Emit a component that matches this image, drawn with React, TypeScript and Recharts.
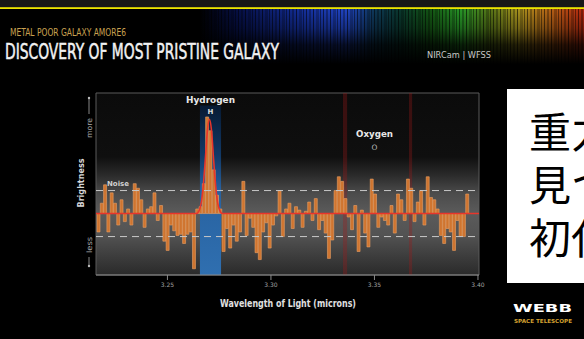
import React from 'react';
import { ComposedChart, Bar, Line, XAxis, YAxis, ReferenceArea, ReferenceLine } from 'recharts';

// Spectrum bins: wavelength (microns) and relative brightness
const wavelengths = [
  3.2168, 3.2184, 3.2200, 3.2216, 3.2232, 3.2248, 3.2264, 3.2280, 3.2296, 3.2312,
  3.2328, 3.2344, 3.2360, 3.2376, 3.2392, 3.2408, 3.2424, 3.2440, 3.2456, 3.2472,
  3.2488, 3.2504, 3.2520, 3.2536, 3.2552, 3.2568, 3.2584, 3.2600, 3.2616, 3.2632,
  3.2648, 3.2664, 3.2680, 3.2696, 3.2712, 3.2728, 3.2744, 3.2760, 3.2776, 3.2792,
  3.2808, 3.2824, 3.2840, 3.2856, 3.2872, 3.2888, 3.2904, 3.2920, 3.2936, 3.2952,
  3.2968, 3.2984, 3.3000, 3.3016, 3.3032, 3.3048, 3.3064, 3.3080, 3.3096, 3.3112,
  3.3128, 3.3144, 3.3160, 3.3176, 3.3192, 3.3208, 3.3224, 3.3240, 3.3256, 3.3272,
  3.3288, 3.3304, 3.3320, 3.3336, 3.3352, 3.3368, 3.3384, 3.3400, 3.3416, 3.3432,
  3.3448, 3.3464, 3.3480, 3.3496, 3.3512, 3.3528, 3.3544, 3.3560, 3.3576, 3.3592,
  3.3608, 3.3624, 3.3640, 3.3656, 3.3672, 3.3688, 3.3704, 3.3720, 3.3736, 3.3752,
  3.3768, 3.3784, 3.3800, 3.3816, 3.3832, 3.3848, 3.3864, 3.3880, 3.3896, 3.3912,
  3.3928, 3.3944, 3.3960,
];

const brightness = [
  -0.8, 0.45, 1.25, -0.8, 0.9, 0.45, -0.5, 0.6, -0.35, 0.2,
  -0.5, 1.3, 1.1, 0.6, -0.6, 0.2, 0.3, 0.9, -0.3, 0.35,
  -1.2, -1.6, -0.5, -0.75, -0.95, -0.9, -1.3, -0.9, -0.8, -2.4,
  0.2, 0.3, 1.3, 4.2, 3.6, 1.9, 0.8, 0.2, -1.65, -0.65,
  -1.5, -0.5, -1.2, -0.8, 1.4, -0.95, -0.2, -0.6, -1.7, -2.0,
  -0.8, -0.4, -1.5, -0.5, -0.1, 1.0, -1.0, 0.2, 0.45, -0.65,
  0.3, 0.15, -0.6, 0.1, 0.5, -0.3, 0.65, -0.7, -0.3, -0.85,
  -1.95, -1.15, 1.0, 1.6, 1.4, 0.65, -0.15, -0.7, 0.35, -1.65,
  0.15, -0.85, -1.45, 1.5, 0.85, -0.6, -0.15, -0.3, -0.5, 0.35,
  -0.85, 0.85, 0.6, -0.3, 1.5, 1.1, -0.35, 0.5, 1.0, -0.5,
  1.6, 0.7, 0.6, 0.2, -0.95, -1.3, -0.65, -0.8, -1.6, -0.3,
  -1.0, -1.0, 0.85,
];

// Red model fit (flat continuum + hydrogen emission line)
const fitWavelengths = [3.2155, 3.2640, 3.2653, 3.2663, 3.2673, 3.2683, 3.2693, 3.2703, 3.2713, 3.2723, 3.2733, 3.2743, 3.2753, 3.2766, 3.4005];
const fitBrightness = [0, 0, 0.13, 0.45, 1.2, 2.35, 3.6, 4.1, 3.6, 2.35, 1.2, 0.45, 0.13, 0, 0];

const xTicks = [3.25, 3.3, 3.35, 3.4];
const xTickLabels = ['3.25', '3.30', '3.35', '3.40'];
const noiseLevels = [1, -1];
const hydrogenBand = [3.2657, 3.2759];
const oxygenBands = [[3.3348, 3.3368], [3.3667, 3.3682]];
const X_DOMAIN: [number, number] = [3.2155, 3.4005];
const Y_DOMAIN: [number, number] = [-2.67, 5.24];

const binData = wavelengths.map((x, i) => ({ x, v: brightness[i] }));
const fitData = fitWavelengths.map((x, i) => ({ x, f: fitBrightness[i] }));

const sans = "'DejaVu Sans', 'Noto Sans', sans-serif";
const narrow = "'Liberation Sans Narrow', 'DejaVu Sans Condensed', 'Roboto', sans-serif";

export default function App() {
  return (
    <div style={{ position: 'absolute', left: 0, top: 0, width: 584, height: 339, background: '#000', overflow: 'hidden' }}>
      <div style={{ position: 'absolute', left: 0, top: 0 }}>
        <ComposedChart width={584} height={339} data={binData} barCategoryGap={0} barGap={0} margin={{ top: 93, right: 105, bottom: 34, left: 96 }}>
          <defs>
            <linearGradient id="plotBg" x1="0" y1="0" x2="0" y2="1">
              <stop offset="0" stopColor="#0b0b0b" />
              <stop offset="0.35" stopColor="#0f0f0f" />
              <stop offset="0.45" stopColor="#2a2a2a" />
              <stop offset="0.55" stopColor="#4b4b4b" />
              <stop offset="0.66" stopColor="#5b5b5b" />
              <stop offset="0.78" stopColor="#535353" />
              <stop offset="0.9" stopColor="#3c3c3c" />
              <stop offset="1" stopColor="#2a2a2a" />
            </linearGradient>
            <linearGradient id="blueBand" x1="0" y1="0" x2="0" y2="1">
              <stop offset="0" stopColor="#071a33" />
              <stop offset="0.3" stopColor="#123a68" />
              <stop offset="0.5" stopColor="#2862a0" />
              <stop offset="1" stopColor="#2f6fb0" />
            </linearGradient>
          </defs>
          <XAxis xAxisId="bins" dataKey="x" type="category" hide height={0} padding={{ left: 1, right: 10 }} />
          <XAxis
            xAxisId="num"
            dataKey="x"
            type="number"
            domain={X_DOMAIN}
            ticks={xTicks}
            interval={0}
            allowDataOverflow
            tickFormatter={(v: number) => xTickLabels[xTicks.indexOf(v)] ?? String(v)}
            stroke="#8a8a8a"
            tickSize={5}
            tickMargin={3}
            tick={{ fill: '#a0a0a0', fontSize: 6, fontFamily: sans }}
            height={30}
          />
          <YAxis type="number" domain={Y_DOMAIN} hide allowDataOverflow />
          <ReferenceArea xAxisId="num" x1={X_DOMAIN[0]} x2={X_DOMAIN[1]} y1={Y_DOMAIN[0]} y2={Y_DOMAIN[1]} fill="url(#plotBg)" fillOpacity={1} stroke="#5a5a5a" strokeWidth={1} />
          <ReferenceArea xAxisId="num" x1={hydrogenBand[0]} x2={hydrogenBand[1]} y1={Y_DOMAIN[0]} y2={4.7} fill="url(#blueBand)" fillOpacity={1} />
          {oxygenBands.map((b, i) => (
            <ReferenceArea xAxisId="num" key={i} x1={b[0]} x2={b[1]} y1={Y_DOMAIN[0]} y2={Y_DOMAIN[1]} fill="#a01818" fillOpacity={0.32} />
          ))}
          {noiseLevels.map((n) => (
            <ReferenceLine xAxisId="num" key={n} y={n} stroke="#c8c8c8" strokeDasharray="7 5" strokeWidth={1} />
          ))}
          <Bar xAxisId="bins" dataKey="v" fill="#cf7530" stroke="#eaa064" strokeWidth={0.6} isAnimationActive={false} />
          <Line xAxisId="num" data={fitData} dataKey="f" type="monotone" stroke="#e8352b" strokeWidth={1.6} dot={false} isAnimationActive={false} />
        </ComposedChart>
      </div>
      <svg width={584} height={339} style={{ position: 'absolute', left: 0, top: 0, pointerEvents: 'none' }}>
        <defs>
          <linearGradient id="specH" x1="0" y1="0" x2="1" y2="0">
            <stop offset="0" stopColor="#000000" />
            <stop offset="0.1" stopColor="#06104a" />
            <stop offset="0.26" stopColor="#1430a0" />
            <stop offset="0.38" stopColor="#2248d0" />
            <stop offset="0.455" stopColor="#0e3a5a" />
            <stop offset="0.52" stopColor="#0a3a30" />
            <stop offset="0.6" stopColor="#145a14" />
            <stop offset="0.68" stopColor="#2aa02a" />
            <stop offset="0.755" stopColor="#5a7a18" />
            <stop offset="0.83" stopColor="#b09a20" />
            <stop offset="0.9" stopColor="#c07018" />
            <stop offset="1" stopColor="#c02a10" />
          </linearGradient>
          <linearGradient id="fadeV" x1="0" y1="0" x2="0" y2="1">
            <stop offset="0" stopColor="#000" stopOpacity={0.05} />
            <stop offset="0.35" stopColor="#000" stopOpacity={0.35} />
            <stop offset="0.65" stopColor="#000" stopOpacity={0.8} />
            <stop offset="1" stopColor="#000" stopOpacity={1} />
          </linearGradient>
          <pattern id="stripes" patternUnits="userSpaceOnUse" width={17} height={60}>
            <rect x={0} y={0} width={1} height={60} fill="#000" opacity={0.55} />
            <rect x={3} y={0} width={2} height={60} fill="#000" opacity={0.3} />
            <rect x={7} y={0} width={1} height={60} fill="#000" opacity={0.6} />
            <rect x={10} y={0} width={3} height={60} fill="#000" opacity={0.25} />
            <rect x={14} y={0} width={1} height={60} fill="#000" opacity={0.45} />
          </pattern>
        </defs>
        {/* header */}
        <rect x={0} y={0} width={584} height={8} fill="#171717" />
        <rect x={200} y={9} width={384} height={55} fill="url(#specH)" />
        <rect x={200} y={9} width={384} height={55} fill="url(#stripes)" />
        <rect x={200} y={9} width={384} height={55} fill="url(#fadeV)" />
        <rect x={0} y={7.2} width={584} height={1.8} fill="#ece400" />
        <text x={10} y={36} fill="#c9a050" fontSize={10.5} fontFamily={narrow} textLength={116} lengthAdjust="spacingAndGlyphs">METAL POOR GALAXY AMORE6</text>
        <text x={5} y={59} fill="#f2f2f2" stroke="#f2f2f2" strokeWidth={0.5} fontSize={22} fontWeight={400} fontFamily={narrow} textLength={274} lengthAdjust="spacingAndGlyphs">DISCOVERY OF MOST PRISTINE GALAXY</text>
        <text x={427} y={58} fill="#c8c8c8" fontSize={8} fontFamily={sans} textLength={64} lengthAdjust="spacingAndGlyphs">NIRCam | WFSS</text>

        {/* y axis annotations */}
        <text transform="translate(83.5,183) rotate(-90)" textAnchor="middle" fill="#d8d8d8" fontSize={9} fontWeight={700} fontFamily={sans} textLength={49} lengthAdjust="spacingAndGlyphs">Brightness</text>
        <text transform="translate(91.5,128) rotate(-90)" textAnchor="middle" fill="#a8a8a8" fontSize={7.5} fontFamily={sans} textLength={20} lengthAdjust="spacingAndGlyphs">more</text>
        <text transform="translate(91.5,245) rotate(-90)" textAnchor="middle" fill="#a8a8a8" fontSize={7.5} fontFamily={sans} textLength={16} lengthAdjust="spacingAndGlyphs">less</text>
        <line x1={89} y1={98} x2={89} y2={114} stroke="#a8a8a8" strokeWidth={0.8} />
        <circle cx={89} cy={98} r={1.2} fill="#bbb" />
        <line x1={89} y1={257} x2={89} y2={266} stroke="#a8a8a8" strokeWidth={0.8} />
        <circle cx={89} cy={266} r={1.2} fill="#bbb" />

        {/* plot annotations */}
        <text x={210.5} y={103} textAnchor="middle" fill="#e8e8e8" fontSize={9.5} fontWeight={700} fontFamily={sans} textLength={49} lengthAdjust="spacingAndGlyphs">Hydrogen</text>
        <text x={210.5} y={113.5} textAnchor="middle" fill="#dddddd" fontSize={7} fontWeight={700} fontFamily={sans}>H</text>
        <text x={374.5} y={136.5} textAnchor="middle" fill="#e8e8e8" fontSize={9.5} fontWeight={700} fontFamily={sans} textLength={37} lengthAdjust="spacingAndGlyphs">Oxygen</text>
        <text x={374.5} y={150} textAnchor="middle" fill="#bbbbbb" fontSize={7.5} fontFamily={sans}>O</text>
        <text x={107} y={186} fill="#d0d0d0" fontSize={7} fontWeight={700} fontFamily={sans} textLength={22} lengthAdjust="spacingAndGlyphs">Noise</text>
        <text x={288} y={307} textAnchor="middle" fill="#e0e0e0" fontSize={10} fontWeight={700} fontFamily={sans} textLength={136} lengthAdjust="spacingAndGlyphs">Wavelength of Light (microns)</text>

        {/* Japanese caption box (cropped at the right edge, as in the source) */}
        <rect x={507} y={89} width={90} height={194} fill="#ffffff" />
        <g fontFamily="'Noto Sans CJK JP', sans-serif" fontSize={42} fill="#000">
          <text x={529} y={148}>重力</text>
          <text x={529} y={201}>見つ</text>
          <text x={529} y={254}>初代</text>
        </g>

        {/* logo */}
        <text x={513} y={312} fill="#ffffff" fontSize={11} fontWeight={900} fontFamily={sans} textLength={59} lengthAdjust="spacingAndGlyphs">WEBB</text>
        <text x={514} y={322.5} fill="#d4a030" fontSize={5.5} fontWeight={700} fontFamily={sans} textLength={58} lengthAdjust="spacingAndGlyphs">SPACE TELESCOPE</text>
      </svg>
    </div>
  );
}
